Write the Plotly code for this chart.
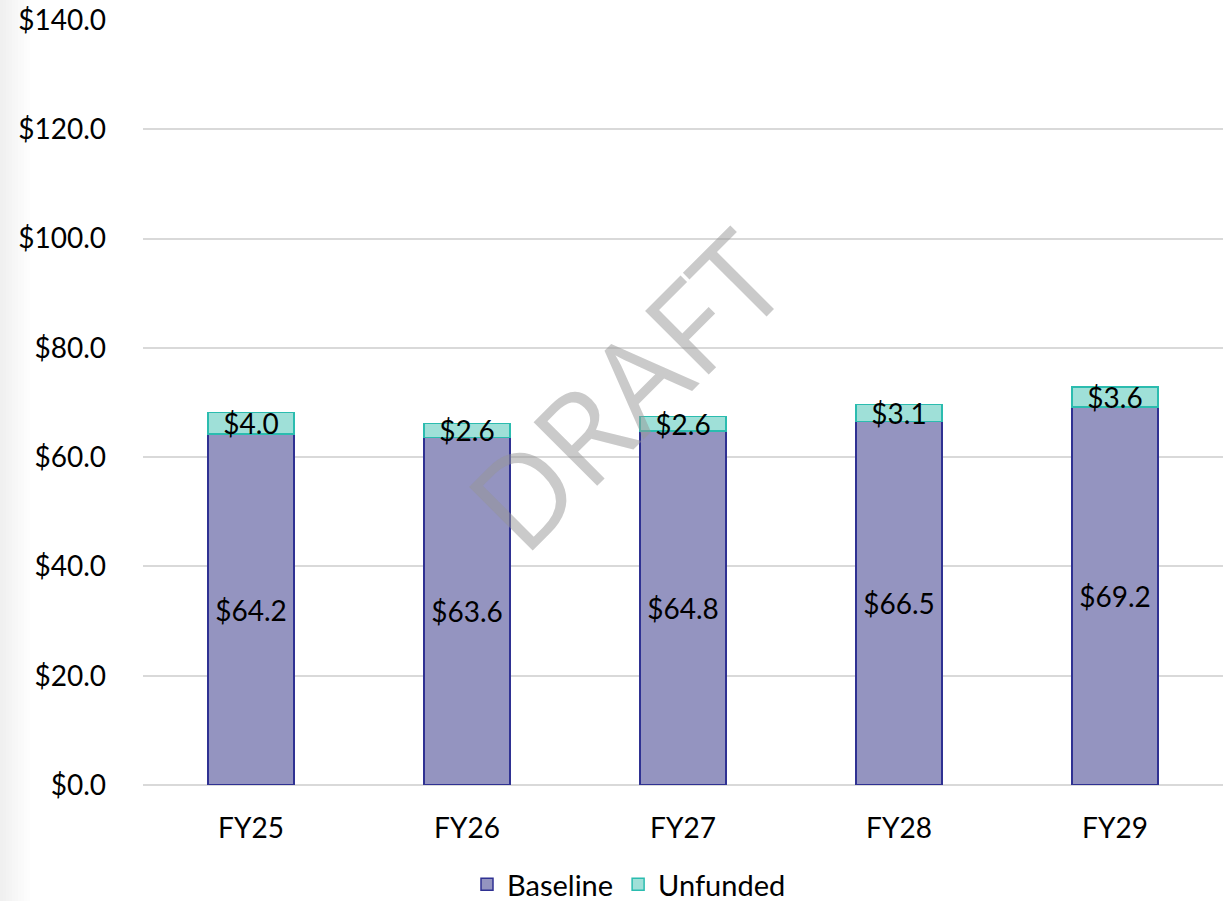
import plotly.graph_objects as go

categories = ["FY25", "FY26", "FY27", "FY28", "FY29"]
baseline = [64.2, 63.6, 64.8, 66.5, 69.2]
unfunded = [4.0, 2.6, 2.6, 3.1, 3.6]
y_ticks = [0, 20, 40, 60, 80, 100, 120, 140]

FONT = "Lato, 'Open Sans', sans-serif"

fig = go.Figure()
fig.add_trace(go.Bar(
    x=categories, y=baseline, name="Baseline",
    marker=dict(color="#9494c0", line=dict(color="#2f3192", width=1.5)),
    text=[f"${v:.1f}" for v in baseline], textposition="inside",
    insidetextanchor="middle", textangle=0, constraintext="none",
    textfont=dict(family=FONT, size=28, color="#000000"),
))
fig.add_trace(go.Bar(
    x=categories, y=unfunded, name="Unfunded",
    marker=dict(color="#9fe0d8", line=dict(color="#2bbcaf", width=1.5)),
    text=[f"${v:.1f}" for v in unfunded], textposition="inside",
    insidetextanchor="middle", textangle=0, constraintext="none",
    textfont=dict(family=FONT, size=28, color="#000000"),
))

shapes = []
# light gray strip on the left edge
steps = 10
for i in range(steps):
    x0 = (0 + i * 3 - 143) / 1080
    x1 = (0 + (i + 1) * 3 - 143) / 1080
    shade = 240 + int(15 * i / steps)
    shapes.append(dict(type="rect", xref="paper", yref="paper", x0=x0, x1=x1,
                       y0=-0.2, y1=1.05, line=dict(width=0),
                       fillcolor=f"rgb({shade},{shade},{shade})", layer="below"))

fig.update_layout(
    barmode="stack",
    bargap=0.6,
    width=1225, height=901,
    margin=dict(l=143, r=2, t=20, b=116, autoexpand=False),
    paper_bgcolor="white", plot_bgcolor="white",
    font=dict(family=FONT, size=28, color="#000000"),
    showlegend=True,
    legend=dict(orientation="h", x=0.45, xanchor="center", y=-0.13, yanchor="middle",
                font=dict(family=FONT, size=29, color="#000000"),
                itemwidth=30, traceorder="normal"),
    xaxis=dict(showgrid=False, showline=False, ticks="", ticklabelstandoff=24,
               automargin=False, tickfont=dict(family=FONT, size=28)),
    yaxis=dict(range=[0, 140], tickvals=y_ticks,
               ticktext=[f"${v:.1f}" for v in y_ticks],
               showgrid=True, gridcolor="#d9d9d9", gridwidth=2,
               zeroline=True, zerolinecolor="#d9d9d9", zerolinewidth=2,
               showline=False, ticks="", ticklabelstandoff=36, automargin=False,
               tickfont=dict(family=FONT, size=28)),
    shapes=shapes,
    annotations=[dict(
        text="DRAFT", xref="paper", yref="y", x=0.446, y=72.5,
        showarrow=False, textangle=-45,
        font=dict(family="'Open Sans', Lato, sans-serif", size=126,
                  color="rgba(150,150,150,0.5)"),
    )],
)

fig.write_html(
    "out.html",
    config={"displayModeBar": False},
    post_script="document.body.style.margin='0';document.body.style.overflow='hidden';",
)
